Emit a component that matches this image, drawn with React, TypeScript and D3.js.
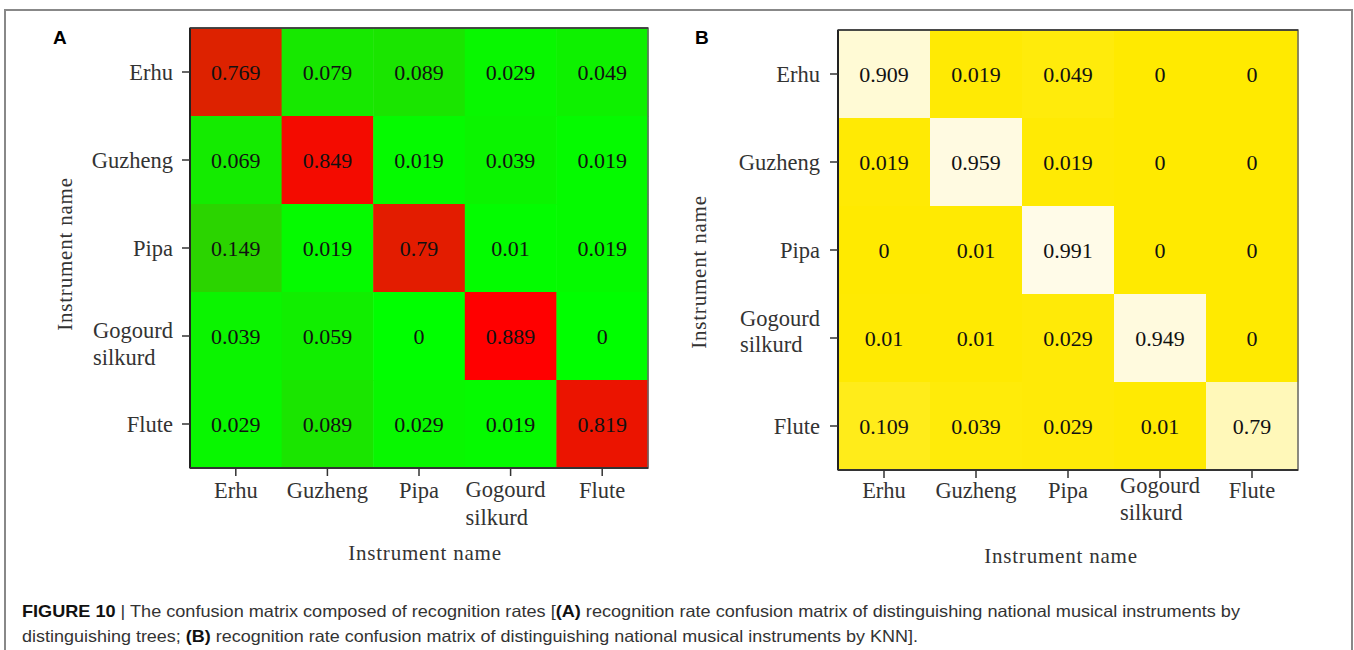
import React from "react";
import * as d3 from "d3";

// Instrument classes (rows = true class, columns = predicted class)
const instruments = ["Erhu", "Guzheng", "Pipa", "Gogourd silkurd", "Flute"];
const tickLabelLines: string[][] = [["Erhu"], ["Guzheng"], ["Pipa"], ["Gogourd", "silkurd"], ["Flute"]];

// Recognition rates, decision tree classifier
const treeRates: number[][] = [
  [0.769, 0.079, 0.089, 0.029, 0.049],
  [0.069, 0.849, 0.019, 0.039, 0.019],
  [0.149, 0.019, 0.79, 0.01, 0.019],
  [0.039, 0.059, 0, 0.889, 0],
  [0.029, 0.089, 0.029, 0.019, 0.819],
];

// Recognition rates, KNN classifier
const knnRates: number[][] = [
  [0.909, 0.019, 0.049, 0, 0],
  [0.019, 0.959, 0.019, 0, 0],
  [0, 0.01, 0.991, 0, 0],
  [0.01, 0.01, 0.029, 0.949, 0],
  [0.109, 0.039, 0.029, 0.01, 0.79],
];

const axisTitle = "Instrument name";

const SERIF = "'Liberation Serif', 'Times New Roman', serif";
const SANS = "'Liberation Sans', Arial, sans-serif";

type PanelProps = {
  letter: string;
  letterX: number;
  data: number[][];
  color: (v: number) => string;
  x0: number;
  x1: number;
  y0: number;
  y1: number;
  yTitleX: number;
  yTitleY: number;
  xTitleX: number;
  xTitleY: number;
  yLabelGap: number;
  yTwoLineStart: number;
  twoLineY: [number, number];
  twoLineX: [number, number];
  twoLineXOffset: number;
  xLabelY: number;
};

function Panel(p: PanelProps) {
  const x = d3.scaleBand<string>().domain(instruments).range([p.x0, p.x1]);
  const y = d3.scaleBand<string>().domain(instruments).range([p.y0, p.y1]);
  const bw = x.bandwidth();
  const bh = y.bandwidth();
  const tick = 8;
  const labelSize = 22.5;

  return (
    <g>
      <text x={p.letterX} y={44} fontFamily={SANS} fontWeight="bold" fontSize={19} fill="#000">
        {p.letter}
      </text>

      {/* cells */}
      {p.data.map((row, i) =>
        row.map((v, j) => (
          <rect
            key={`c-${i}-${j}`}
            x={x(instruments[j])!}
            y={y(instruments[i])!}
            width={bw + 0.5}
            height={bh + 0.5}
            fill={p.color(v)}
          />
        ))
      )}
      {/* values */}
      {p.data.map((row, i) =>
        row.map((v, j) => (
          <text
            key={`t-${i}-${j}`}
            x={x(instruments[j])! + bw / 2}
            y={y(instruments[i])! + bh / 2}
            dy="0.35em"
            textAnchor="middle"
            fontFamily={SERIF}
            fontSize={22}
            fill="#111"
          >
            {String(v)}
          </text>
        ))
      )}

      {/* frame */}
      <rect x={p.x0} y={p.y0} width={p.x1 - p.x0} height={p.y1 - p.y0} fill="none" stroke="#666" strokeWidth={1.5} />
      <line x1={p.x0} x2={p.x0} y1={p.y0} y2={p.y1} stroke="#222" strokeWidth={2} />
      <line x1={p.x0} x2={p.x1} y1={p.y1} y2={p.y1} stroke="#333" strokeWidth={2} />
      <line x1={p.x0} x2={p.x1} y1={p.y0} y2={p.y0} stroke="#333" strokeWidth={1.5} />

      {/* y axis */}
      {instruments.map((name, i) => {
        const cy = y(name)! + bh / 2;
        const lines = tickLabelLines[i];
        return (
          <g key={`y-${name}`}>
            <line x1={p.x0 - tick} x2={p.x0} y1={cy} y2={cy} stroke="#333" strokeWidth={1.5} />
            {lines.length === 1 ? (
              <text x={p.x0 - p.yLabelGap} y={cy} dy="0.35em" textAnchor="end" fontFamily={SERIF} fontSize={labelSize} fill="#333">
                {lines[0]}
              </text>
            ) : (
              lines.map((ln, k) => (
                <text key={ln} x={p.yTwoLineStart} y={cy + p.twoLineY[k]} textAnchor="start" fontFamily={SERIF} fontSize={labelSize} fill="#333">
                  {ln}
                </text>
              ))
            )}
          </g>
        );
      })}

      {/* x axis */}
      {instruments.map((name, i) => {
        const cx = x(name)! + bw / 2;
        const lines = tickLabelLines[i];
        return (
          <g key={`x-${name}`}>
            <line x1={cx} x2={cx} y1={p.y1} y2={p.y1 + tick} stroke="#333" strokeWidth={1.5} />
            {lines.length === 1 ? (
              <text x={cx} y={p.xLabelY} textAnchor="middle" fontFamily={SERIF} fontSize={labelSize} fill="#333">
                {lines[0]}
              </text>
            ) : (
              lines.map((ln, k) => (
                <text key={ln} x={cx - p.twoLineXOffset} y={p.twoLineX[k]} textAnchor="start" fontFamily={SERIF} fontSize={labelSize} fill="#333">
                  {ln}
                </text>
              ))
            )}
          </g>
        );
      })}

      <text x={p.xTitleX} y={p.xTitleY} textAnchor="middle" fontFamily={SERIF} fontSize={21} letterSpacing={0.8} fill="#333">
        {axisTitle}
      </text>
      <text
        transform={`translate(${p.yTitleX},${p.yTitleY}) rotate(-90)`}
        textAnchor="middle"
        fontFamily={SERIF}
        fontSize={21}
        letterSpacing={0.8}
        fill="#333"
      >
        {axisTitle}
      </text>
    </g>
  );
}

export default function App() {
  const width = 1354;
  const height = 650;

  const treeMax = d3.max(treeRates.flat())!;
  const knnMax = d3.max(knnRates.flat())!;
  const treeColor = d3.scaleLinear<string>().domain([0, treeMax]).range(["#00ff00", "#ff0000"]).interpolate(d3.interpolateRgb);
  const knnColor = d3.scaleLinear<string>().domain([0, knnMax]).range(["#ffea00", "#fffbe8"]).interpolate(d3.interpolateRgb);

  return (
    <div style={{ position: "absolute", left: 0, top: 0 }}>
      <svg width={width} height={height} style={{ display: "block", background: "#fff" }}>
        {/* outer figure frame */}
        <path d={`M5,${height} V10 H1352 V${height}`} fill="none" stroke="#888" strokeWidth={2} />

        <Panel
          letter="A"
          letterX={53}
          data={treeRates}
          color={(v) => treeColor(v)}
          x0={190}
          x1={648}
          y0={28}
          y1={468}
          yTitleX={72}
          yTitleY={254}
          xTitleX={425}
          xTitleY={560}
          yLabelGap={17}
          yTwoLineStart={93}
          twoLineY={[2, 29]}
          twoLineX={[497, 525]}
          twoLineXOffset={45}
          xLabelY={498}
        />
        <Panel
          letter="B"
          letterX={695}
          data={knnRates}
          color={(v) => knnColor(v)}
          x0={838}
          x1={1298}
          y0={30}
          y1={470}
          yTitleX={706}
          yTitleY={272}
          xTitleX={1061}
          xTitleY={563}
          yLabelGap={18}
          yTwoLineStart={740}
          twoLineY={[-12, 14]}
          twoLineX={[493, 520]}
          twoLineXOffset={40}
          xLabelY={498}
        />

        {/* caption */}
        <text x={22} y={617} fontFamily={SANS} fontSize={16.5} fill="#333" textLength={1218} lengthAdjust="spacingAndGlyphs">
          <tspan fontWeight="bold" fill="#111">FIGURE 10</tspan>
          <tspan> | The confusion matrix composed of recognition rates [</tspan>
          <tspan fontWeight="bold" fill="#111">(A)</tspan>
          <tspan> recognition rate confusion matrix of distinguishing national musical instruments by</tspan>
        </text>
        <text x={22} y={642} fontFamily={SANS} fontSize={16.5} fill="#333" textLength={896} lengthAdjust="spacingAndGlyphs">
          <tspan>distinguishing trees; </tspan>
          <tspan fontWeight="bold" fill="#111">(B)</tspan>
          <tspan> recognition rate confusion matrix of distinguishing national musical instruments by KNN].</tspan>
        </text>
      </svg>
    </div>
  );
}
